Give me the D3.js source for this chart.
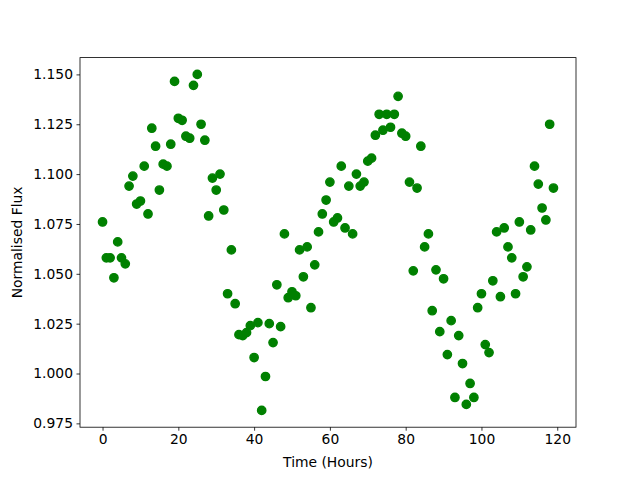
<!DOCTYPE html>
<html>
<head>
<meta charset="utf-8">
<script src="https://cdn.jsdelivr.net/npm/d3@7"></script>
<style>
  html, body { margin: 0; padding: 0; background: #fff; }
  svg { display: block; font-family: "DejaVu Sans", sans-serif; }
</style>
</head>
<body>
<svg id="chart" width="640" height="480"></svg>
<script>
// Observation times (hours)
const hours = [
  0, 1, 2, 3, 4, 5, 6, 7, 8, 9, 10, 11, 12, 13, 14, 15, 16, 17, 18, 19,
  20, 21, 22, 23, 24, 25, 26, 27, 28, 29, 30, 31, 32, 33, 34, 35, 36, 37, 38, 39,
  40, 41, 42, 43, 44, 45, 46, 47, 48, 49, 50, 51, 52, 53, 54, 55, 56, 57, 58, 59,
  60, 61, 62, 63, 64, 65, 66, 67, 68, 69, 70, 71, 72, 73, 74, 75, 76, 77, 78, 79,
  80, 81, 82, 83, 84, 85, 86, 87, 88, 89, 90, 91, 92, 93, 94, 95, 96, 97, 98, 99,
  100, 101, 102, 103, 104, 105, 106, 107, 108, 109, 110, 111, 112, 113, 114, 115, 116, 117, 118, 119
];

// Normalised flux
const flux = [
  1.076, 1.058, 1.058, 1.048, 1.066, 1.058, 1.055, 1.094, 1.099, 1.085,
  1.0865, 1.104, 1.080, 1.123, 1.114, 1.092, 1.105, 1.104, 1.115, 1.1465,
  1.128, 1.127, 1.119, 1.118, 1.1445, 1.150, 1.125, 1.117, 1.079, 1.098,
  1.092, 1.100, 1.082, 1.040, 1.062, 1.035, 1.0195, 1.019, 1.0205, 1.024,
  1.008, 1.0255, 0.9815, 0.9985, 1.025, 1.0155, 1.0445, 1.0235, 1.070, 1.038,
  1.041, 1.039, 1.062, 1.0485, 1.0635, 1.033, 1.0545, 1.071, 1.080, 1.087,
  1.096, 1.076, 1.078, 1.104, 1.073, 1.094, 1.070, 1.100, 1.094, 1.096,
  1.1065, 1.108, 1.1195, 1.130, 1.122, 1.130, 1.1235, 1.130, 1.139, 1.1205,
  1.119, 1.096, 1.0515, 1.093, 1.114, 1.0635, 1.070, 1.0315, 1.052, 1.021,
  1.0475, 1.0095, 1.0265, 0.988, 1.019, 1.005, 0.9845, 0.995, 0.988, 1.033,
  1.040, 1.0145, 1.0105, 1.0465, 1.071, 1.0385, 1.073, 1.0635, 1.058, 1.040,
  1.076, 1.0485, 1.0535, 1.072, 1.104, 1.095, 1.083, 1.077, 1.125, 1.093
];

const xTicks = [0, 20, 40, 60, 80, 100, 120];
const yTicks = [0.975, 1.000, 1.025, 1.050, 1.075, 1.100, 1.125, 1.150];

const points = hours.map((h, i) => ({ h, f: flux[i] }));

const margin = { top: 57.6, right: 64, bottom: 52.8, left: 80 };
const W = 640, H = 480;
const width = W - margin.left - margin.right;
const height = H - margin.top - margin.bottom;

const svg = d3.select("#chart");
svg.append("rect").attr("width", W).attr("height", H).attr("fill", "#fff");

const g = svg.append("g").attr("transform", `translate(${margin.left},${margin.top})`);

// matplotlib-style 5% margins around the data
const pad = (ext) => {
  const d = (ext[1] - ext[0]) * 0.05;
  return [ext[0] - d, ext[1] + d];
};

const x = d3.scaleLinear().domain(pad(d3.extent(hours))).range([0, width]);
const y = d3.scaleLinear().domain(pad(d3.extent(flux))).range([height, 0]);

// Points
g.selectAll(".pt")
  .data(points)
  .enter()
  .append("circle")
  .attr("class", "pt")
  .attr("cx", (d) => x(d.h))
  .attr("cy", (d) => y(d.f))
  .attr("r", 4.17)
  .attr("fill", "#008000")
  .attr("stroke", "#008000")
  .attr("stroke-width", 1.39);

// Frame
g.append("rect")
  .attr("width", width)
  .attr("height", height)
  .attr("fill", "none")
  .attr("stroke", "#000")
  .attr("stroke-width", 0.8);

// X axis
const xAxis = g.append("g")
  .attr("transform", `translate(0,${height})`)
  .call(d3.axisBottom(x).tickValues(xTicks).tickFormat(d3.format("d")).tickSize(3.5).tickPadding(3.5));
xAxis.select(".domain").remove();
xAxis.selectAll("line").attr("stroke", "#000").attr("stroke-width", 0.8);
xAxis.selectAll("text")
  .attr("fill", "#000")
  .style("font-size", "13.89px")
  .style("font-family", "DejaVu Sans");

// Y axis
const yAxis = g.append("g")
  .call(d3.axisLeft(y).tickValues(yTicks).tickFormat(d3.format(".3f")).tickSize(3.5).tickPadding(3.5));
yAxis.select(".domain").remove();
yAxis.selectAll("line").attr("stroke", "#000").attr("stroke-width", 0.8);
yAxis.selectAll("text")
  .attr("fill", "#000")
  .style("font-size", "13.89px")
  .style("font-family", "DejaVu Sans");

// Axis labels
svg.append("text")
  .attr("x", margin.left + width / 2)
  .attr("y", 467)
  .attr("text-anchor", "middle")
  .style("font-size", "13.89px")
  .text("Time (Hours)");

svg.append("text")
  .attr("transform", `translate(22,${margin.top + height / 2}) rotate(-90)`)
  .attr("text-anchor", "middle")
  .style("font-size", "13.89px")
  .text("Normalised Flux");
</script>
</body>
</html>
